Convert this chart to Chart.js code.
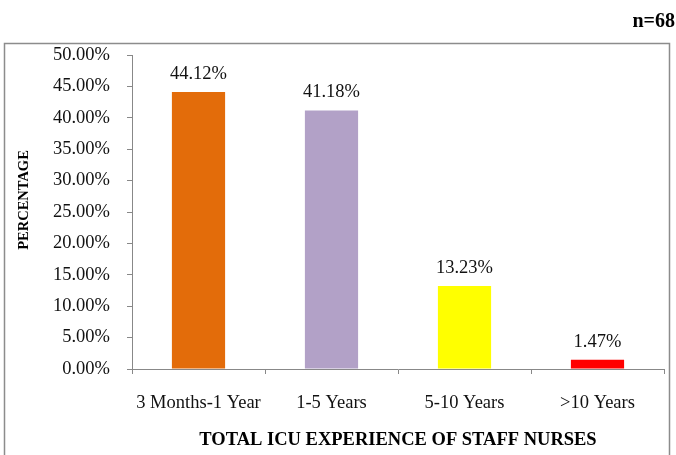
<!DOCTYPE html>
<html>
<head>
<meta charset="utf-8">
<script src="https://cdn.jsdelivr.net/npm/chart.js@4.4.1/dist/chart.umd.min.js"></script>
<style>
  html, body { margin: 0; padding: 0; background: #fff; }
  #wrap { width: 676px; height: 455px; position: relative; }
</style>
</head>
<body>
<div id="wrap"><canvas id="myChart" width="676" height="455"></canvas></div>
<script>
const categories = ['3 Months-1 Year', '1-5 Years', '5-10 Years', '>10 Years'];
const percentages = [44.12, 41.18, 13.23, 1.47];
const valueLabels = ['44.12%', '41.18%', '13.23%', '1.47%'];
const barColors = ['#E36C0A', '#B2A1C7', '#FFFF00', '#FF0000'];
const sampleNote = 'n=68';
const yTitle = 'PERCENTAGE';

const serif = '"Liberation Serif", "Times New Roman", serif';

// frame round the plot, the n=68 note and the y title
const framePlugin = {
    id: 'frame',
    beforeDraw(chart) {
        const ctx = chart.ctx;
        ctx.save();
        ctx.strokeStyle = '#8c8c8c';
        ctx.lineWidth = 1.5;
        ctx.beginPath();
        ctx.moveTo(4.5, 460);
        ctx.lineTo(4.5, 43.5);
        ctx.lineTo(669.5, 43.5);
        ctx.lineTo(669.5, 460);
        ctx.stroke();
        ctx.fillStyle = '#000';
        ctx.font = 'bold 20px ' + serif;
        ctx.textAlign = 'right';
        ctx.textBaseline = 'middle';
        ctx.fillText(sampleNote, 675, 22);

        ctx.translate(24, 200);
        ctx.rotate(-Math.PI / 2);
        ctx.textAlign = 'center';
        ctx.font = 'bold 14.5px ' + serif;
        ctx.fillText(yTitle, 0, 0);
        ctx.restore();
    }
};

// value labels above each bar
const valuePlugin = {
    id: 'values',
    afterDatasetsDraw(chart) {
        const ctx = chart.ctx;
        const meta = chart.getDatasetMeta(0);
        ctx.save();
        ctx.fillStyle = '#111';
        ctx.font = '18.5px ' + serif;
        ctx.textAlign = 'center';
        ctx.textBaseline = 'middle';
        meta.data.forEach((bar, i) => {
            ctx.fillText(valueLabels[i], bar.x, bar.y - 18);
        });
        ctx.restore();
    }
};

const ctx = document.getElementById('myChart');

new Chart(ctx, {
    type: 'bar',
    data: {
        labels: categories,
        datasets: [{
            data: percentages,
            backgroundColor: barColors,
            barPercentage: 0.4,
            categoryPercentage: 1.0
        }]
    },
    options: {
        responsive: false,
        animation: false,
        layout: { padding: { left: 0, top: 55, right: 12, bottom: 0 } },
        plugins: {
            legend: { display: false },
            tooltip: { enabled: false }
        },
        scales: {
            x: {
                grid: { drawOnChartArea: false, tickLength: 5, color: '#888', offset: true },
                border: { color: '#888', width: 1 },
                ticks: { color: '#111', font: { family: serif, size: 18.5 }, padding: 18, maxRotation: 0 },
                title: {
                    display: true,
                    text: 'TOTAL ICU EXPERIENCE OF STAFF NURSES',
                    color: '#000',
                    font: { family: serif, size: 18.5, weight: 'bold' },
                    padding: { top: 0, bottom: 4 }
                },
                afterFit(scale) { scale.height = 86; }
            },
            y: {
                min: 0,
                max: 50,
                ticks: {
                    stepSize: 5,
                    color: '#111',
                    font: { family: serif, size: 18.5 },
                    padding: 17,
                    callback: v => v.toFixed(2) + '%'
                },
                grid: { drawOnChartArea: false, tickLength: 5, color: '#888' },
                border: { color: '#888', width: 1 },
                afterFit(scale) { scale.width = 132; }
            }
        }
    },
    plugins: [framePlugin, valuePlugin]
});
</script>
</body>
</html>
